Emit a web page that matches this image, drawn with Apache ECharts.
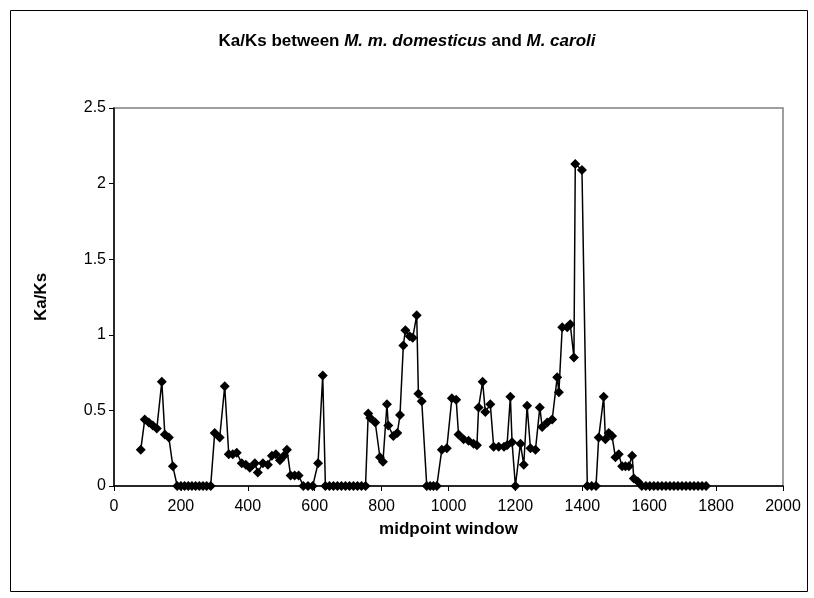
<!DOCTYPE html>
<html>
<head>
<meta charset="utf-8">
<title>Ka/Ks between M. m. domesticus and M. caroli</title>
<script src="https://cdn.jsdelivr.net/npm/echarts@6/dist/echarts.min.js"></script>
<style>
  html, body { margin: 0; padding: 0; background: #fff; }
  #chart { width: 814px; height: 598px; }
</style>
</head>
<body>
<div id="chart"></div>
<script>
// midpoint of each window
const midpoints = [
  80, 92, 104, 116, 128, 143, 152, 164, 176,
  189, 200, 211, 222, 233, 244, 255, 266, 277, 289,
  301, 316, 331, 343, 355, 367, 382, 394, 406, 421, 430, 445,
  460, 472, 484, 496, 508, 517, 528, 540, 552, 566, 580, 594, 610, 624,
  632, 644, 656, 668, 680, 692, 704, 716, 728, 740, 752,
  760, 766, 781, 795, 804, 816, 820, 835, 847, 855, 865, 871, 884, 893, 905, 910, 920,
  935, 945, 955, 965,
  980, 995, 1010, 1023, 1030, 1045, 1060, 1075, 1085, 1090, 1102, 1110,
  1125, 1135, 1150, 1166, 1175, 1185, 1190, 1200, 1215, 1225, 1235, 1245, 1260,
  1273, 1280, 1295, 1310, 1325, 1330, 1340, 1355, 1364, 1375, 1379, 1399,
  1415, 1428, 1441, 1449, 1464, 1469, 1479, 1489, 1499, 1509, 1519, 1529, 1539,
  1549, 1554, 1566,
  1578, 1590, 1602, 1614, 1626, 1638, 1650, 1662, 1674, 1686, 1698, 1710, 1722,
  1734, 1746, 1758, 1770
];

// Ka/Ks value at each midpoint
const kaks = [
  0.24, 0.44, 0.42, 0.40, 0.38, 0.69, 0.34, 0.32, 0.13,
  0, 0, 0, 0, 0, 0, 0, 0, 0, 0,
  0.35, 0.32, 0.66, 0.21, 0.21, 0.22, 0.15, 0.14, 0.12, 0.15, 0.09, 0.15,
  0.14, 0.20, 0.21, 0.17, 0.20, 0.24, 0.07, 0.07, 0.07, 0, 0, 0, 0.15, 0.73,
  0, 0, 0, 0, 0, 0, 0, 0, 0, 0, 0,
  0.48, 0.45, 0.42, 0.19, 0.16, 0.54, 0.40, 0.33, 0.35, 0.47, 0.93, 1.03, 0.99, 0.98, 1.13, 0.61, 0.56,
  0, 0, 0, 0,
  0.24, 0.25, 0.58, 0.57, 0.34, 0.31, 0.30, 0.28, 0.27, 0.52, 0.69, 0.49,
  0.54, 0.26, 0.26, 0.26, 0.27, 0.59, 0.29, 0, 0.28, 0.14, 0.53, 0.25, 0.24,
  0.52, 0.39, 0.42, 0.44, 0.72, 0.62, 1.05, 1.05, 1.07, 0.85, 2.13, 2.09,
  0, 0, 0, 0.32, 0.59, 0.31, 0.35, 0.33, 0.19, 0.21, 0.13, 0.13, 0.13,
  0.20, 0.05, 0.03,
  0, 0, 0, 0, 0, 0, 0, 0, 0, 0, 0, 0, 0,
  0, 0, 0, 0
];

const xTicks = [0, 2000, 200];   // min, max, step
const yTicks = [0, 2.5, 0.5];

const font = '"Liberation Sans", Arial, sans-serif';

const chart = echarts.init(document.getElementById('chart'));

chart.setOption({
  backgroundColor: '#fff',
  animation: false,
  graphic: [
    {
      type: 'rect',
      left: 8, top: 8,
      shape: { width: 797, height: 581 },
      style: { fill: 'none', stroke: '#000', lineWidth: 1 }
    }
  ],
  title: {
    text: '{b|Ka/Ks between }{i|M. m. domesticus}{b| and }{i|M. caroli}',
    left: 'center',
    top: 28,
    textStyle: {
      rich: {
        b: { fontFamily: font, fontSize: 17, fontWeight: 'bold', color: '#000' },
        i: { fontFamily: font, fontSize: 17, fontWeight: 'bold', fontStyle: 'italic', color: '#000' }
      }
    }
  },
  grid: {
    left: 114,
    top: 108,
    right: 31,
    bottom: 112,
    show: true,
    borderColor: '#808080',
    borderWidth: 1.5,
    backgroundColor: '#fff'
  },
  xAxis: {
    type: 'value',
    min: xTicks[0],
    max: xTicks[1],
    interval: xTicks[2],
    name: 'midpoint window',
    nameLocation: 'middle',
    nameGap: 35,
    nameTextStyle: { fontFamily: font, fontSize: 17, fontWeight: 'bold', color: '#000' },
    axisLine: { onZero: false, lineStyle: { color: '#000', width: 1.5 } },
    axisTick: { show: true, inside: false, length: 5, lineStyle: { color: '#000' } },
    axisLabel: { fontFamily: font, fontSize: 16, color: '#000', margin: 13, formatter: v => String(v) },
    splitLine: { show: false }
  },
  yAxis: {
    type: 'value',
    min: yTicks[0],
    max: yTicks[1],
    interval: yTicks[2],
    name: 'Ka/Ks',
    nameLocation: 'middle',
    nameGap: 64,
    nameRotate: 90,
    nameTextStyle: { fontFamily: font, fontSize: 17, fontWeight: 'bold', color: '#000' },
    axisLine: { show: true, lineStyle: { color: '#000', width: 1.5 } },
    axisTick: { show: true, inside: false, length: 5, lineStyle: { color: '#000' } },
    axisLabel: { fontFamily: font, fontSize: 16, color: '#000', margin: 8, formatter: v => String(v) },
    splitLine: { show: false }
  },
  series: [
    {
      type: 'line',
      data: midpoints.map((m, i) => [m, kaks[i]]),
      symbol: 'diamond',
      symbolSize: 10,
      showAllSymbol: true,
      itemStyle: { color: '#000' },
      lineStyle: { color: '#000', width: 1.5 },
      z: 3
    }
  ]
});
</script>
</body>
</html>
